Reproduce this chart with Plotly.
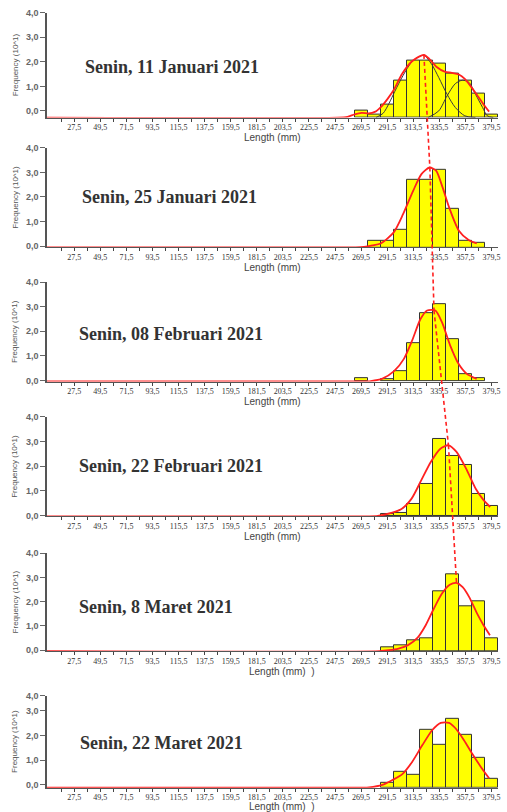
import plotly.graph_objects as go

# ------------------------------------------------------------------ data
dates = ["Senin, 11 Januari 2021", "Senin, 25 Januari 2021", "Senin, 08 Februari 2021",
         "Senin, 22 Februari 2021", "Senin, 8 Maret 2021", "Senin, 22 Maret 2021"]

x_tick_labels = ["27,5", "49,5", "71,5", "93,5", "115,5", "137,5", "159,5", "181,5",
                 "203,5", "225,5", "247,5", "269,5", "291,5", "313,5", "335,5", "357,5", "379,5"]
y_tick_labels = ["0,0", "1,0", "2,0", "3,0", "4,0"]

# bars: length class mid-points and frequency (10^1)
p1_len = [269.5, 280.5, 291.5, 302.5, 313.5, 324.5, 335.5, 346.5, 357.5, 368.5, 379.5]
p1_freq = [0.0, -0.14, 0.27, 1.25, 2.04, 2.04, 1.92, 1.5, 1.25, 0.7, -0.14]

p2_len = [280.5, 291.5, 302.5, 313.5, 324.5, 335.5, 346.5, 357.5, 368.5]
p2_freq = [0.2, 0.2, 0.65, 2.7, 2.7, 3.1, 1.52, 0.2, 0.13]

p3_len = [269.5, 291.5, 302.5, 313.5, 324.5, 335.5, 346.5, 357.5, 368.5]
p3_freq = [0.11, 0.07, 0.4, 1.5, 2.72, 3.1, 1.7, 0.28, 0.1]

p4_len = [291.5, 302.5, 313.5, 324.5, 335.5, 346.5, 357.5, 368.5, 379.5]
p4_freq = [0.04, 0.1, 0.47, 1.26, 3.1, 2.42, 2.03, 0.85, 0.38]

p5_len = [291.5, 302.5, 313.5, 324.5, 335.5, 346.5, 357.5, 368.5, 379.5]
p5_freq = [0.1, 0.21, 0.41, 0.48, 2.44, 3.13, 1.81, 2.02, 0.48]

p6_len = [291.5, 302.5, 313.5, 324.5, 335.5, 346.5, 357.5, 368.5, 379.5]
p6_freq = [0.09, 0.54, 0.4, 2.24, 1.61, 2.66, 2.04, 1.08, 0.23]

# fitted (red) curves
c1_x = [4.5, 250, 258, 264, 270, 276, 281, 287, 292, 297, 304, 312, 318, 322.5, 327, 333, 340, 346, 352, 357, 362, 368, 373, 377.5]
c1_y = [-0.27, -0.27, -0.24, -0.14, -0.08, -0.1, -0.04, 0.2, 0.5, 0.85, 1.5, 2.0, 2.2, 2.28, 2.12, 1.8, 1.6, 1.55, 1.48, 1.3, 1.0, 0.6, 0.25, -0.03]

c2_x = [4.5, 265, 272, 279, 286, 297, 305, 313.5, 320.4, 327.25, 332.75, 338.25, 343.75, 352, 360.25, 367.1]
c2_y = [-0.05, -0.05, -0.03, 0.03, 0.11, 0.56, 1.31, 2.26, 2.93, 3.2, 3.07, 2.39, 1.58, 0.63, 0.25, 0.11]

c3_x = [4.5, 270, 277.7, 287.5, 297.3, 305.6, 312.6, 319.6, 325.2, 332.2, 337.7, 344.7, 351.7, 358.7, 367]
c3_y = [-0.04, -0.04, -0.02, 0.08, 0.38, 0.88, 1.63, 2.5, 2.85, 2.85, 2.37, 1.42, 0.68, 0.27, 0.07]

c4_x = [4.5, 276, 283.6, 295.8, 303.9, 312.1, 320.2, 328.3, 336.4, 343.2, 350, 358.1, 366.2, 373, 378.4]
c4_y = [-0.04, -0.04, -0.02, 0.11, 0.27, 0.68, 1.42, 2.17, 2.71, 2.85, 2.58, 1.9, 1.08, 0.61, 0.34]

c5_x = [4.5, 285, 292.9, 301, 309.1, 317.2, 324, 330.8, 337.6, 344.3, 349.8, 355.2, 360.6, 367.4, 372.8, 378.2]
c5_y = [-0.04, -0.04, 0.0, 0.07, 0.21, 0.52, 1.03, 1.71, 2.33, 2.7, 2.78, 2.6, 2.2, 1.51, 1.03, 0.62]

c6_x = [4.5, 270, 276.2, 287.4, 295.9, 304.3, 312.7, 321.2, 329.6, 336.7, 343.7, 349.3, 356.3, 363.4, 370.4, 377.5]
c6_y = [-0.11, -0.11, -0.1, 0.0, 0.2, 0.44, 0.94, 1.61, 2.22, 2.51, 2.51, 2.28, 1.81, 1.25, 0.74, 0.27]

# normal components of the first sample (black)
compA_x = [282, 288, 293, 298, 305, 312, 318, 322.5, 329, 335, 342, 349, 357, 366]
compA_y = [-0.27, -0.1, 0.3, 0.8, 1.45, 1.98, 2.2, 2.26, 1.9, 1.36, 0.68, 0.14, -0.2, -0.27]
compB_x = [326, 335, 342, 349, 355, 360.5, 366, 372, 376, 381]
compB_y = [-0.27, 0.0, 0.61, 1.11, 1.25, 1.16, 0.68, 0.14, -0.2, -0.27]

# growth line through the modes of samples 1-5
mode_len = [322.5, 327.5, 331.0, 343.2, 350.0]
mode_freq = [2.28, 3.2, 2.85, 2.85, 2.78]

bars = [(p1_len, p1_freq), (p2_len, p2_freq), (p3_len, p3_freq),
        (p4_len, p4_freq), (p5_len, p5_freq), (p6_len, p6_freq)]
curves = [(c1_x, c1_y), (c2_x, c2_y), (c3_x, c3_y), (c4_x, c4_y), (c5_x, c5_y), (c6_x, c6_y)]

# ------------------------------------------------------------------ layout config
W, H = 507, 812
ML, MR, MT, MB = 47, 7, 11, 24
PH = H - MT - MB
PW = W - ML - MR
X_RANGE = [4.5, 385]
BIN_W = 11

panels = [
    dict(top=11.6, bottom=116.7, ymin=-0.27, ymax=4.0, title_px=(83, 66), len_dy=20),
    dict(top=147.0, bottom=246.7, ymin=-0.05, ymax=4.0, title_px=(80, 196), len_dy=20),
    dict(top=281.5, bottom=381.0, ymin=-0.04, ymax=4.0, title_px=(77, 333), len_dy=20),
    dict(top=416.5, bottom=516.0, ymin=-0.04, ymax=4.0, title_px=(77, 466), len_dy=20),
    dict(top=553.0, bottom=651.0, ymin=-0.04, ymax=4.0, title_px=(77, 607), len_dy=20),
    dict(top=695.7, bottom=787.7, ymin=-0.11, ymax=3.6, title_px=(78, 743), len_dy=18.5),
]
length_titles = ["Length (mm)", "Length (mm)", "Length (mm)", "Length (mm)",
                 "Length (mm)  )", "Length (mm)  )"]


def fy(py):
    return (H - MB - py) / PH


def fx(px):
    return (px - ML) / PW


label_vals = [float(s.replace(",", ".")) for s in x_tick_labels]
tick_vals, tick_text = [], []
for v, s in zip(label_vals, x_tick_labels):
    tick_vals += [v - BIN_W, v]
    tick_text += ["", s]

fig = go.Figure()
annotations = []
shapes = []

for k, p in enumerate(panels):
    n = "" if k == 0 else str(k + 1)
    xa, ya = "x" + n, "y" + n
    lens, freqs = bars[k]
    fig.add_trace(go.Bar(
        x=lens, y=[f - p["ymin"] for f in freqs], base=p["ymin"], width=BIN_W,
        marker=dict(color="#FFFF00", line=dict(color="#333333", width=1)),
        xaxis=xa, yaxis=ya, hoverinfo="skip"))
    if k == 0:
        for cx, cy in [(compA_x, compA_y), (compB_x, compB_y)]:
            fig.add_trace(go.Scatter(
                x=cx, y=cy, mode="lines",
                line=dict(color="#3a3a3a", width=1, shape="spline", smoothing=0.8),
                xaxis=xa, yaxis=ya, hoverinfo="skip"))
    cx, cy = curves[k]
    fig.add_trace(go.Scatter(
        x=cx, y=cy, mode="lines",
        line=dict(color="#FF2020", width=1.8, shape="spline", smoothing=0.7),
        xaxis=xa, yaxis=ya, hoverinfo="skip"))

    dom = [fy(p["bottom"]), fy(p["top"])]
    yvals = [0, 1, 2, 3, 4] if p["ymax"] >= 4 else [0, 1, 2, 3, p["ymax"]]
    fig.update_layout(**{
        "xaxis" + n: dict(
            domain=[0, 1], anchor=ya, range=X_RANGE, showgrid=False, zeroline=False,
            showline=True, linecolor="#555555", linewidth=1,
            ticks="outside", ticklen=3, tickwidth=1, tickcolor="#444444",
            tickvals=tick_vals, ticktext=tick_text, tickangle=0,
            ticklabeloverflow="allow", ticklabelstandoff=-1,
            tickfont=dict(family="Liberation Serif, Times New Roman, serif", size=8, color="#333333")),
        "yaxis" + n: dict(
            domain=dom, anchor=xa, range=[p["ymin"], p["ymax"]], showgrid=False, zeroline=False,
            showline=True, linecolor="#555555", linewidth=1.6,
            ticks="outside", ticklen=5, tickwidth=1, tickcolor="#666666",
            tickvals=yvals, ticktext=y_tick_labels,
            tickfont=dict(family="Liberation Sans, Arial, sans-serif", size=9, color="#666666",
                          weight="bold")),
    })

    tx, ty = p["title_px"]
    annotations.append(dict(
        text="<b>" + dates[k] + "</b>", xref="paper", yref="paper", x=fx(tx), y=fy(ty),
        xanchor="left", yanchor="middle", showarrow=False,
        font=dict(family="Liberation Serif, Times New Roman, serif", size=18, color="#333333")))
    annotations.append(dict(
        text="Frequency (10^1)", xref="paper", yref="paper", x=fx(15), y=(dom[0] + dom[1]) / 2,
        xanchor="center", yanchor="middle", textangle=-90, showarrow=False,
        font=dict(family="Liberation Sans, Arial, sans-serif", size=8, color="#555555")))
    annotations.append(dict(
        text=length_titles[k], xref="paper", yref="paper", x=0.5 if k < 4 else 0.52,
        y=fy(p["bottom"] + p["len_dy"]), xanchor="center", yanchor="middle", showarrow=False,
        font=dict(family="Liberation Sans, Arial, sans-serif", size=10, color="#444444")))


def paper_y(k, v):
    p = panels[k]
    b, t = fy(p["bottom"]), fy(p["top"])
    return b + (v - p["ymin"]) / (p["ymax"] - p["ymin"]) * (t - b)


for i in range(len(mode_len) - 1):
    shapes.append(dict(
        type="line", xref="x", yref="paper",
        x0=mode_len[i], y0=paper_y(i, mode_freq[i]),
        x1=mode_len[i + 1], y1=paper_y(i + 1, mode_freq[i + 1]),
        line=dict(color="#FF2020", width=1.6, dash="4px,3px"), layer="above"))

fig.update_layout(
    width=W, height=H, margin=dict(l=ML, r=MR, t=MT, b=MB),
    paper_bgcolor="white", plot_bgcolor="white", showlegend=False,
    bargap=0, annotations=annotations, shapes=shapes,
)

fig.write_html("out.html", config={"displayModeBar": False},
               post_script="document.body.style.margin='0px';")
